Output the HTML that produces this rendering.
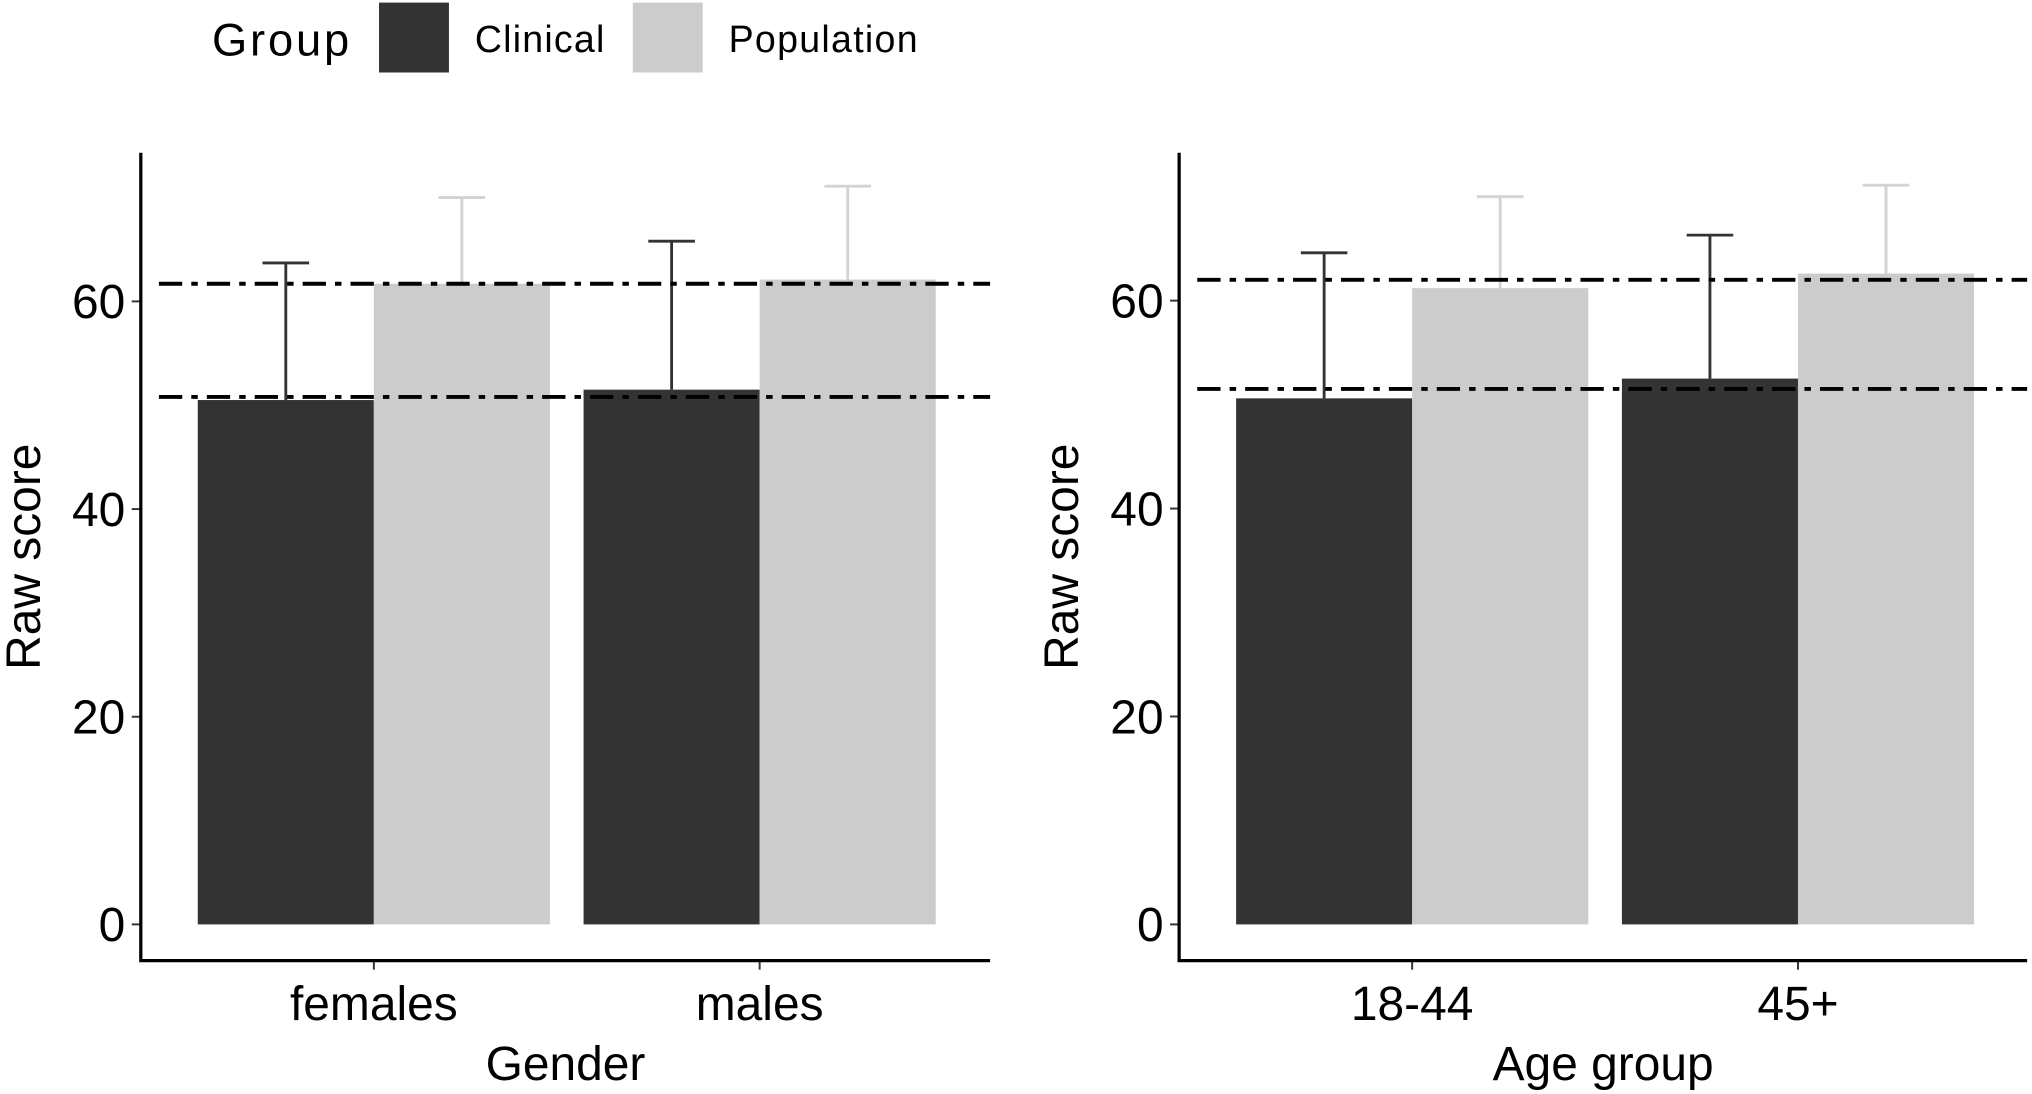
<!DOCTYPE html>
<html><head><meta charset="utf-8"><style>
html,body{margin:0;padding:0;background:#fff;}
svg{display:block;}
text{font-family:"Liberation Sans",Arial,sans-serif;fill:#000;}
</style></head><body>
<svg id="chart" width="2032" height="1094" viewBox="0 0 1568 845" xmlns="http://www.w3.org/2000/svg">
<g>
<text x="163" y="43" font-size="35" textLength="106">Group</text>
<rect x="292" y="2" width="54" height="54" fill="#333333"/>
<text x="366" y="40" font-size="29" textLength="100">Clinical</text>
<rect x="488" y="2" width="54" height="54" fill="#cccccc"/>
<text x="562" y="40" font-size="29" textLength="146">Population</text>
</g>
<g id="p1"></g>
<g id="p2"></g>
</svg>
<script>
// Panel 1: Gender
const genderCategories = ["females", "males"];
const genderClinical = [50.5, 51.5];
const genderClinicalErr = [63.7, 65.8];
const genderPopulation = [61.7, 62.1];
const genderPopulationErr = [70.0, 71.1];
const genderRefLines = [61.7, 50.8];
// Panel 2: Age group
const ageCategories = ["18-44", "45+"];
const ageClinical = [50.6, 52.5];
const ageClinicalErr = [64.6, 66.3];
const agePopulation = [61.2, 62.6];
const agePopulationErr = [70.0, 71.1];
const ageRefLines = [62.0, 51.5];
const yTicks = [0, 20, 40, 60];

const NS = "http://www.w3.org/2000/svg";
function mk(parent, tag, attrs, txt) {
  const e = document.createElementNS(NS, tag);
  for (const k in attrs) e.setAttribute(k, attrs[k]);
  if (txt !== undefined) e.textContent = txt;
  parent.appendChild(e);
  return e;
}

function drawPanel(g, o, cats, clin, clinErr, pop, popErr, refs, xTitle) {
  const y = v => o.y0 - v * o.ppu;
  const xc = i => o.firstCenter + i * o.step;
  const bw = o.barW;
  cats.forEach((c, i) => {
    const cx = xc(i);
    const e1 = mk(g, "path", {d: `M${cx - bw/2} ${y(clin[i])}V${y(clinErr[i])}M${cx - bw/2 - 18} ${y(clinErr[i])}H${cx - bw/2 + 18}`, stroke: "#333", "stroke-width": 2.2, fill: "none"});
    
    
    const e2 = mk(g, "path", {d: `M${cx + bw/2} ${y(pop[i])}V${y(popErr[i])}M${cx + bw/2 - 18} ${y(popErr[i])}H${cx + bw/2 + 18}`, stroke: "#d3d3d3", "stroke-width": 2.2, fill: "none"});
    
    
    const b1 = mk(g, "rect", {x: cx - bw, y: y(clin[i]), width: bw, height: y(0) - y(clin[i]), fill: "#333333"});
    
    
    const b2 = mk(g, "rect", {x: cx, y: y(pop[i]), width: bw, height: y(0) - y(pop[i]), fill: "#cccccc"});
    
    
    const t = mk(g, "line", {x1: cx, x2: cx, y1: o.axisY, y2: o.axisY + 7, stroke: "#333", "stroke-width": 1.5});
    
    
    const tl = mk(g, "text", {x: cx, y: o.axisY + 46, "font-size": 37, "text-anchor": "middle"}, c);
    
    
  });
  refs.forEach(r => {
    const l = mk(g, "line", {x1: o.axisX + 14, x2: o.right, y1: y(r), y2: y(r), stroke: "#000", "stroke-width": 3, "stroke-dasharray": "18 7 5 7"});
    
    
  });
  yTicks.forEach(v => {
    const t = mk(g, "line", {x1: o.axisX - 7, x2: o.axisX, y1: y(v), y2: y(v), stroke: "#333", "stroke-width": 1.5});
    
    
    const tl = mk(g, "text", {x: o.axisX - 12, y: y(v) + 13, "font-size": 37, "text-anchor": "end"}, String(v));
    
    
  });
  const ax = mk(g, "path", {d: `M${o.axisX} ${o.top}V${o.axisY}H${o.right}`, stroke: "#000", "stroke-width": 2.5, fill: "none"});
  
  
  const xt = mk(g, "text", {x: (o.axisX + o.right) / 2, y: 834, "font-size": 37, "text-anchor": "middle"}, xTitle);
  
  
  const yt = mk(g, "text", {x: 0, y: 0, "font-size": 37, "text-anchor": "middle", transform: `translate(${o.axisX - 78} 430) rotate(-90)`}, "Raw score");
  
  
}

drawPanel(document.getElementById("p1"),
  {axisX: 108, axisY: 742, top: 118, right: 764, y0: 714, ppu: 8.02, firstCenter: 288, step: 298, barW: 136},
  genderCategories, genderClinical, genderClinicalErr, genderPopulation, genderPopulationErr, genderRefLines, "Gender");
drawPanel(document.getElementById("p2"),
  {axisX: 910, axisY: 742, top: 118, right: 1565, y0: 714, ppu: 8.03, firstCenter: 1090, step: 298, barW: 136},
  ageCategories, ageClinical, ageClinicalErr, agePopulation, agePopulationErr, ageRefLines, "Age group");
</script>
</body></html>
